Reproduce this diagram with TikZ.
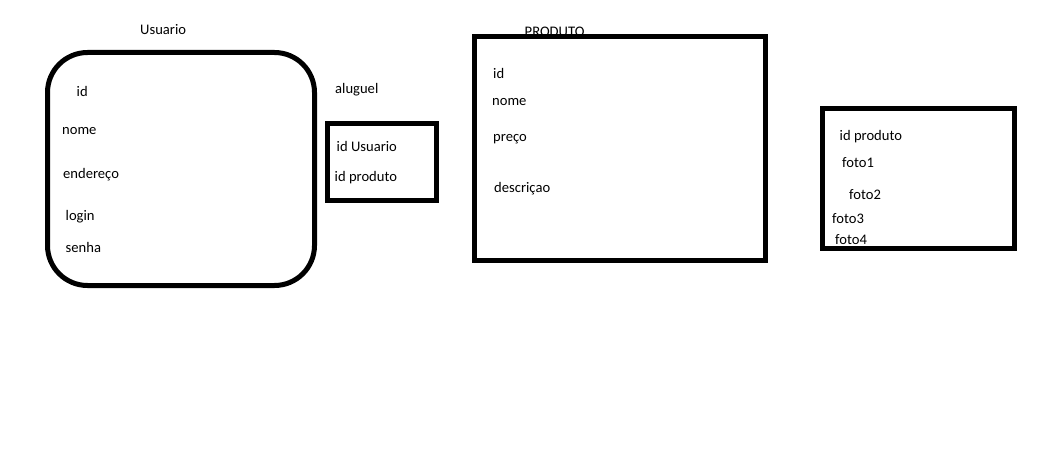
\documentclass[tikz,border=0pt]{standalone}
\usepackage{fontspec}
\setmainfont{Carlito}
\tikzset{
  box/.style={draw=black, line width=5pt, fill=none, inner sep=0pt},
  lbl/.style={anchor=base west, inner sep=0pt, font=\fontsize{14.6}{17}\selectfont, text=black}
}
\begin{document}
\begin{tikzpicture}[x=1pt,y=-1pt]
\useasboundingbox[fill=white] (0,0) rectangle (1055,460);
% Usuario
\node[lbl] (tUsuario) at (140,35) {Usuario};
\node[box, rounded corners=40pt, minimum width=267pt, minimum height=233pt] (usuario) at (181,169) {};
\node[lbl] (u1) at (76.5,96) {id};
\node[lbl] (u2) at (62,134) {nome};
\node[lbl] (u3) at (63,178.5) {endereço};
\node[lbl] (u4) at (65.5,220) {login};
\node[lbl] (u5) at (65.5,252.5) {senha};
% aluguel
\node[lbl] (tAluguel) at (335,93) {aluguel};
\node[box, minimum width=109pt, minimum height=77pt] (aluguel) at (382,162) {};
\node[lbl] (a1) at (336.5,151) {id Usuario};
\node[lbl] (a2) at (334.5,181) {id produto};
% PRODUTO
\node[lbl] (tProduto) at (524.5,36.5) {PRODUTO};
\node[box, minimum width=291pt, minimum height=224pt] (produto) at (620,148.5) {};
\node[lbl] (p1) at (493,78) {id};
\node[lbl] (p2) at (492,106) {nome};
\node[lbl] (p3) at (493,141.5) {preço};
\node[lbl] (p4) at (494,192.5) {descriçao};
% fotos
\node[box, minimum width=192pt, minimum height=140pt] (fotos) at (918.5,178.5) {};
\node[lbl] (f0) at (839.5,140.5) {id produto};
\node[lbl] (f1) at (842,167) {foto1};
\node[lbl] (f2) at (849,199.5) {foto2};
\node[lbl] (f3) at (832,223) {foto3};
\node[lbl] (f4) at (835,244) {foto4};
\end{tikzpicture}
\end{document}
